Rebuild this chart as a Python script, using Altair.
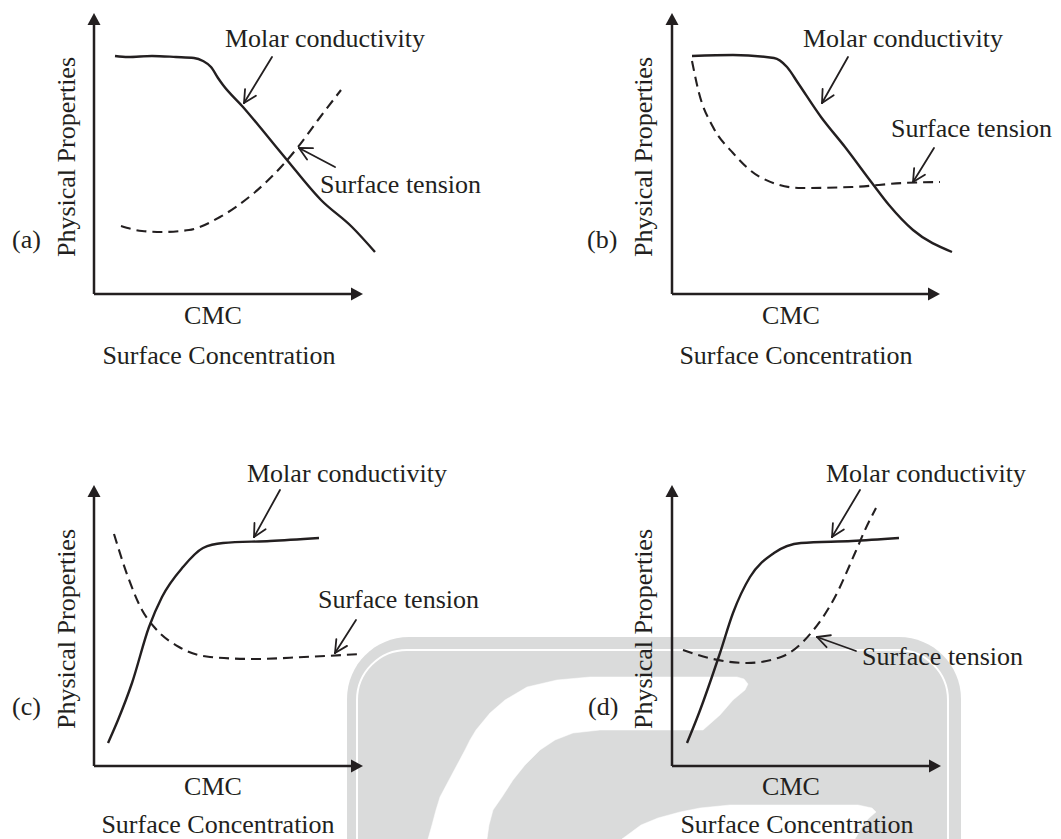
import altair as alt
import pandas as pd
import numpy as np

INK = "#231f20"
GRAY = "#dadbdb"
FONT = "Liberation Serif"

# ---------------- curves (pixel coordinates) ----------------
molar_a_x = [115, 128, 152, 176, 194, 203, 211, 218, 223, 243, 264, 287, 321, 352, 375]
molar_a_y = [56, 57, 56, 57, 58, 61, 67, 78, 85, 107, 132, 160, 200, 227, 252]
tension_a_x = [121, 142, 162, 189, 220, 254, 281, 298, 318, 341]
tension_a_y = [226, 231, 232, 230, 217, 193, 167, 147, 120, 90]

molar_b_x = [692, 733, 774, 787, 798, 821, 845, 872, 889, 913, 952]
molar_b_y = [56, 55, 58, 67, 83, 117, 147, 183, 205, 230, 252]
tension_b_x = [692, 699, 713, 733, 760, 801, 852, 903, 940]
tension_b_y = [61, 93, 127, 153, 177, 188, 187, 183, 182]

molar_c_x = [108, 118, 132, 149, 162, 183, 203, 223, 270, 319]
molar_c_y = [743, 720, 683, 627, 597, 567, 548, 543, 541, 538]
tension_c_x = [114, 128, 142, 155, 179, 210, 254, 304, 362]
tension_c_y = [534, 577, 610, 628, 647, 657, 659, 657, 654]

molar_d_x = [687, 699, 720, 733, 750, 774, 801, 852, 899]
molar_d_y = [743, 713, 653, 613, 577, 553, 543, 541, 538]
tension_d_x = [683, 713, 747, 781, 811, 835, 855, 865, 876]
tension_d_y = [650, 659, 663, 657, 633, 597, 553, 530, 508]

# ---------------- axes (origin and arrow tips) ----------------
panels = ["a", "b", "c", "d"]
axis_origin_x = [94, 672, 94, 672]
axis_origin_y = [294, 294, 766, 766]
axis_top_y = [13, 13, 485, 485]
axis_right_x = [363, 940, 363, 941]

# ---------------- annotation arrows: start -> tip ----------------
arrow_x0 = [272, 335, 848, 934, 280, 356, 860, 856]
arrow_y0 = [57, 167, 57, 148, 490, 620, 490, 651]
arrow_x1 = [244, 299, 822, 913, 254, 335, 832, 817]
arrow_y1 = [103, 148, 103, 182, 537, 653, 537, 637]

# ---------------- texts ----------------
left_texts = ["Molar conductivity", "Surface tension", "(a)",
              "Molar conductivity", "Surface tension", "(b)",
              "Molar conductivity", "Surface tension", "(c)",
              "Molar conductivity", "Surface tension", "(d)"]
left_x = [225, 320, 12, 803, 891, 587, 247, 318, 12, 826, 862, 588]
left_y = [47, 193, 248, 47, 137, 248, 482, 608, 715, 482, 665, 715]

center_texts = ["CMC", "Surface Concentration"] * 4
center_x = [213, 219, 791, 796, 213, 218, 791, 797]
center_y = [324, 364, 324, 364, 795, 833, 795, 833]

rot_text = "Physical Properties"
rot_x = [75, 652, 75, 652]
rot_y = [157, 157, 629, 629]

# ---------------- watermark shapes ----------------
wm_outer = dict(x=347, x2=961, y=637, y2=900)
wm_border = dict(x=357, x2=948, y=650, y2=900)
band_x = [428, 432, 436, 440, 449, 457, 465, 470, 476, 490, 505, 527, 557, 590,
          737, 744, 748, 745, 733, 720, 703, 600, 573, 555, 540, 525, 513, 502, 493, 489, 487]
band_y = [839, 825, 810, 797, 780, 765, 750, 740, 730, 713, 700, 687, 680, 677,
          677, 679, 684, 690, 700, 715, 730, 730, 733, 740, 750, 765, 780, 797, 810, 825, 839]
swoosh_x = [622, 641, 658, 680, 700, 730, 858, 872, 876, 869, 863, 855]
swoosh_y = [839, 825, 818, 812, 808, 805, 805, 808, 812, 818, 825, 839]

# ---------------- build tables ----------------
def curve_df(xs, ys, name):
    return pd.DataFrame({"x": xs, "y": ys, "k": name, "o": range(len(xs))})

solid = pd.concat([curve_df(molar_a_x, molar_a_y, "a"), curve_df(molar_b_x, molar_b_y, "b"),
                   curve_df(molar_c_x, molar_c_y, "c"), curve_df(molar_d_x, molar_d_y, "d")])
dashed = pd.concat([curve_df(tension_a_x, tension_a_y, "a"), curve_df(tension_b_x, tension_b_y, "b"),
                    curve_df(tension_c_x, tension_c_y, "c"), curve_df(tension_d_x, tension_d_y, "d")])
shapes = pd.concat([curve_df(band_x, band_y, "band"), curve_df(swoosh_x, swoosh_y, "swoosh")])

axes_rows = []
for i, p in enumerate(panels):
    axes_rows.append(dict(x=axis_origin_x[i], y=axis_origin_y[i], x2=axis_origin_x[i], y2=axis_top_y[i] + 8))
    axes_rows.append(dict(x=axis_origin_x[i], y=axis_origin_y[i], x2=axis_right_x[i] - 8, y2=axis_origin_y[i]))
axes_df = pd.DataFrame(axes_rows)

HEAD_L, HEAD_W = 12, 6.5
vtri = []
htri = []
for i, p in enumerate(panels):
    tx, ty = axis_origin_x[i], axis_top_y[i]
    vtri += [dict(x=tx - HEAD_W, y=ty + HEAD_L, y2=ty + HEAD_L, k=p),
             dict(x=tx, y=ty, y2=ty + HEAD_L, k=p),
             dict(x=tx + HEAD_W, y=ty + HEAD_L, y2=ty + HEAD_L, k=p)]
    rx, ry = axis_right_x[i], axis_origin_y[i]
    htri += [dict(y=ry - HEAD_W, x=rx - HEAD_L, x2=rx - HEAD_L, k=p),
             dict(y=ry, x=rx, x2=rx - HEAD_L, k=p),
             dict(y=ry + HEAD_W, x=rx - HEAD_L, x2=rx - HEAD_L, k=p)]
vtri_df = pd.DataFrame(vtri)
htri_df = pd.DataFrame(htri)

WING_L, WING_A = 14, np.deg2rad(27)
arrow_rows = []
for x0, y0, x1, y1 in zip(arrow_x0, arrow_y0, arrow_x1, arrow_y1):
    arrow_rows.append(dict(x=x0, y=y0, x2=x1, y2=y1))
    d = np.array([x1 - x0, y1 - y0], float)
    d /= np.linalg.norm(d)
    for s in (1, -1):
        c, sn = np.cos(s * WING_A), np.sin(s * WING_A)
        r = np.array([c * d[0] - sn * d[1], sn * d[0] + c * d[1]])
        arrow_rows.append(dict(x=x1, y=y1, x2=x1 - WING_L * r[0], y2=y1 - WING_L * r[1]))
arrows_df = pd.DataFrame(arrow_rows)

left_df = pd.DataFrame({"t": left_texts, "x": left_x, "y": left_y})
center_df = pd.DataFrame({"t": center_texts, "x": center_x, "y": center_y})
rot_df = pd.DataFrame({"t": rot_text, "x": rot_x, "y": rot_y})

# ---------------- scales ----------------
XS = alt.Scale(domain=[8, 1053], nice=False, zero=False)
YS = alt.Scale(domain=[8, 839], nice=False, zero=False, reverse=True)
X = lambda f="x": alt.X(f"{f}:Q", scale=XS, axis=None)
Y = lambda f="y": alt.Y(f"{f}:Q", scale=YS, axis=None)

# watermark
wm_rect = alt.Chart(pd.DataFrame([wm_outer])).mark_rect(
    color=GRAY, cornerRadius=62, clip=True).encode(x=X(), x2="x2:Q", y=Y(), y2="y2:Q")
wm_line = alt.Chart(pd.DataFrame([wm_border])).mark_rect(
    filled=False, stroke="white", strokeWidth=2, cornerRadius=50, clip=True).encode(
    x=X(), x2="x2:Q", y=Y(), y2="y2:Q")
wm_shapes = alt.Chart(shapes).mark_line(
    fill="white", stroke="white", strokeWidth=0.5, interpolate="linear-closed", clip=True).encode(
    x=X(), y=Y(), detail="k:N", order="o:Q")

# axes
axes = alt.Chart(axes_df).mark_rule(color=INK, strokeWidth=2.5).encode(
    x=X(), y=Y(), x2="x2:Q", y2="y2:Q")
vheads = alt.Chart(vtri_df).mark_area(color=INK).encode(x=X(), y=Y(), y2="y2:Q", detail="k:N")
hheads = alt.Chart(htri_df).mark_area(orient="horizontal", color=INK).encode(
    y=Y(), x=X(), x2="x2:Q", detail="k:N")

# curves
solid_l = alt.Chart(solid).mark_line(color=INK, strokeWidth=2.4, interpolate="monotone").encode(
    x=X(), y=Y(), detail="k:N", order="o:Q")
dashed_l = alt.Chart(dashed).mark_line(color=INK, strokeWidth=2.1, strokeDash=[10, 6],
                                       interpolate="monotone").encode(
    x=X(), y=Y(), detail="k:N", order="o:Q")

# annotation arrows
arrows = alt.Chart(arrows_df).mark_rule(color=INK, strokeWidth=1.8, strokeCap="round").encode(
    x=X(), y=Y(), x2="x2:Q", y2="y2:Q")

# texts
t_left = alt.Chart(left_df).mark_text(font=FONT, fontSize=26, color=INK, align="left",
                                      baseline="alphabetic").encode(x=X(), y=Y(), text="t:N")
t_center = alt.Chart(center_df).mark_text(font=FONT, fontSize=26, color=INK, align="center",
                                          baseline="alphabetic").encode(x=X(), y=Y(), text="t:N")
t_rot = alt.Chart(rot_df).mark_text(font=FONT, fontSize=26, color=INK, align="center",
                                    baseline="alphabetic", angle=270).encode(x=X(), y=Y(), text="t:N")

chart = alt.layer(
    wm_rect, wm_line, wm_shapes,
    axes, vheads, hheads, solid_l, dashed_l, arrows, t_left, t_center, t_rot
).properties(width=1045, height=831, padding=0, autosize="none").configure_view(stroke=None)

chart.save("out.html", embed_options={"renderer": "svg", "actions": False})
